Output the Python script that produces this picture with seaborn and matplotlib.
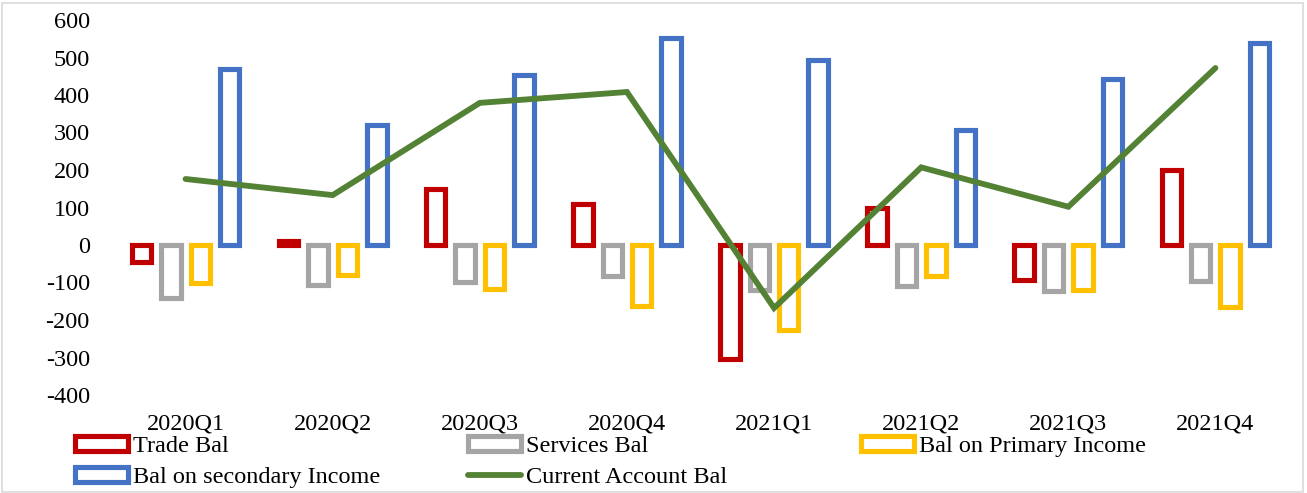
import matplotlib
matplotlib.use("Agg")
import matplotlib.pyplot as plt
from matplotlib.patches import Patch, Rectangle
from matplotlib.lines import Line2D
import seaborn as sns
import pandas as pd

quarters = ['2020Q1', '2020Q2', '2020Q3', '2020Q4', '2021Q1', '2021Q2', '2021Q3', '2021Q4']
trade_bal = [-45, 12, 150, 110, -305, 100, -92, 200]
services_bal = [-140, -106, -98, -83, -120, -110, -122, -97]
primary_income = [-100, -81, -117, -163, -226, -83, -119, -165]
secondary_income = [470, 319, 453, 553, 493, 307, 442, 540]
current_account = [176, 133, 379, 408, -168, 207, 102, 472]

series_names = ['Trade Bal', 'Services Bal', 'Bal on Primary Income', 'Bal on secondary Income']
line_name = 'Current Account Bal'
colors = ['#C00000', '#A5A5A5', '#FFC000', '#4472C4']
line_color = '#548235'
y_ticks = list(range(-400, 601, 100))

rows = []
for name, vals in zip(series_names, [trade_bal, services_bal, primary_income, secondary_income]):
    for q, v in zip(quarters, vals):
        rows.append({'Quarter': q, 'Value': v, 'Series': name})
df = pd.DataFrame(rows)

sns.set_theme(style='white')
plt.rcParams['font.family'] = ['Liberation Serif', 'DejaVu Serif']
plt.rcParams['axes.unicode_minus'] = False
plt.rcParams['text.color'] = 'black'

fig = plt.figure(figsize=(13.07, 4.93), dpi=100)
W, H = 1307, 493
ax = fig.add_axes([112 / W, 1 - 395 / H, (1289 - 112) / W, (395 - 20) / H])

sns.barplot(data=df, x='Quarter', y='Value', hue='Series', hue_order=series_names,
            order=quarters, palette=colors, fill=False, linewidth=3.7,
            width=0.8, gap=0.34, errorbar=None, legend=False, ax=ax)
sns.pointplot(x=quarters, y=current_account, order=quarters, color=line_color,
              markers='', linewidth=4.2, errorbar=None, ax=ax)
for ln in ax.lines:
    ln.set_linewidth(4.2)
    ln.set_solid_capstyle('round')
    ln.set_solid_joinstyle('miter')
    ln.set_zorder(5)

ax.set_xlim(-0.5, len(quarters) - 0.5)
ax.set_ylim(-400, 600)
ax.set_yticks(y_ticks)
ax.set_xlabel('')
ax.set_ylabel('')
for s in ax.spines.values():
    s.set_visible(False)
ax.grid(False)
ax.tick_params(axis='y', length=0, labelsize=17.5, pad=16, colors='black')
ax.tick_params(axis='x', length=0, labelsize=17.5, pad=13, colors='black')

def bar_handle(c):
    return Patch(facecolor='white', edgecolor=c, linewidth=3.7)

legend_kw = dict(frameon=False, fontsize=17.5, handlelength=2.2, handleheight=0.6,
                 handletextpad=0.17, labelspacing=0.4, borderpad=0, borderaxespad=0,
                 loc='upper left', labelcolor='black')
top = 1 - 436 / H
col1 = fig.legend([bar_handle(colors[0]), bar_handle(colors[3])],
                  [series_names[0], series_names[3]],
                  bbox_to_anchor=(75 / W, top), **legend_kw)
col2 = fig.legend([bar_handle(colors[1]), Line2D([], [], color=line_color, linewidth=4.2, solid_capstyle='round')],
                  [series_names[1], line_name],
                  bbox_to_anchor=(468 / W, top), **legend_kw)
col3 = fig.legend([bar_handle(colors[2])], [series_names[2]],
                  bbox_to_anchor=(861 / W, top), **legend_kw)

fig.patches.append(Rectangle((2 / W, 1 / H), 1301 / W, 489 / H, transform=fig.transFigure,
                             fill=False, edgecolor='#D9D9D9', linewidth=1.2))

fig.savefig('out.png', dpi=100)
